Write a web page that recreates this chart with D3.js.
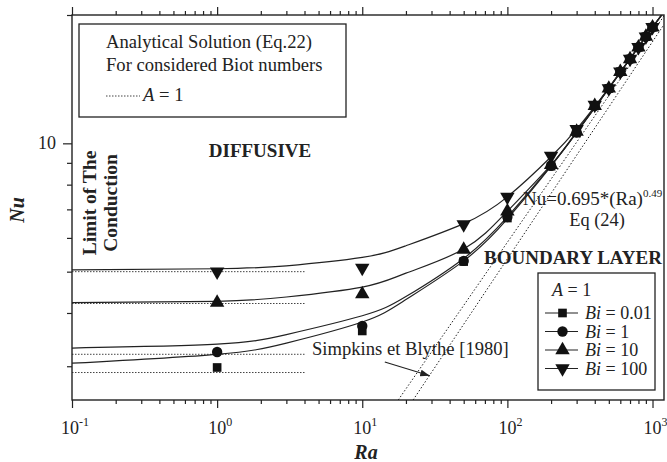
<!DOCTYPE html>
<html>
<head>
<meta charset="utf-8">
<script src="https://cdn.jsdelivr.net/npm/d3@7"></script>
<style>
body { margin: 0; background: #fff; }
svg { display: block; font-family: "Liberation Serif", "Times New Roman", serif; }
</style>
</head>
<body>
<div id="chart"></div>
<script>
var w = 667, h = 462;

// numerical results (markers)
var raPoints = [1, 10, 50, 100, 200, 300, 400, 500, 600, 700, 800, 900, 1000];
var nuBi001 = [2.98, 3.63, 5.28, 6.68, 8.84, 10.6, 12.24, 13.45, 14.72, 15.77, 16.8, 17.79, 18.72];
var nuBi1   = [3.24, 3.73, 5.30, 6.72, 8.86, 10.6, 12.24, 13.45, 14.72, 15.77, 16.8, 17.79, 18.72];
var nuBi10  = [4.23, 4.43, 5.63, 6.93, 8.90, 10.65, 12.24, 13.45, 14.72, 15.77, 16.8, 17.79, 18.72];
var nuBi100 = [5.00, 5.10, 6.45, 7.49, 9.34, 10.8, 12.3, 13.45, 14.72, 15.77, 16.8, 17.79, 18.72];

// analytical solution (Eq.22), solid curves
var raCurve = [0.1, 1, 3, 10, 20, 50, 100, 200, 300, 500, 1000, 1200];
var curveBi001 = [3.05, 3.20, 3.40, 3.81, 4.30, 5.30, 6.65, 8.84, 10.6, 13.45, 18.7, 20.3];
var curveBi1   = [3.31, 3.38, 3.56, 3.94, 4.37, 5.37, 6.72, 8.86, 10.6, 13.45, 18.7, 20.3];
var curveBi10  = [4.23, 4.26, 4.36, 4.60, 4.96, 5.65, 6.93, 8.90, 10.65, 13.45, 18.7, 20.3];
var curveBi100 = [5.05, 5.08, 5.16, 5.40, 5.75, 6.48, 7.49, 9.30, 10.8, 13.5, 18.7, 20.3];

// conduction limits (dotted, A = 1)
var limitRa = [0.1, 4];
var limitNu = [5.0, 4.21, 3.2, 2.9];

// correlations (dotted straight lines)
var eq24Ra = [17.7, 1200], eq24Nu = [2.5, 19.9];
var simpRa = [22.4, 1200], simpNu = [2.5, 19.0];

var xMajor = [0.1, 1, 10, 100, 1000];
var xExp = ["-1", "0", "1", "2", "3"];
var yMajor = [10];

var legendNames = ["0.01", "1", "10", "100"];

var svg = d3.select("#chart").append("svg")
    .attr("width", w)
    .attr("height", h);

var x = d3.scaleLog().domain([0.1, 1200]).range([72, 664]);
var y = d3.scaleLog().domain([2.5, 20]).range([400, 15]);

var ink = "#222";

svg.append("clipPath").attr("id", "clip")
    .append("rect").attr("x", 72).attr("y", 15).attr("width", 592).attr("height", 385);

var plot = svg.append("g").attr("clip-path", "url(#clip)");

// axes -- minor ticks, then majors
var xMinor = x.ticks().filter(function (d) { return xMajor.indexOf(d) < 0; });
var yMinor = y.ticks().filter(function (d) { return yMajor.indexOf(d) < 0; });

function styleAxis(g) {
    g.select(".domain").remove();
    g.selectAll("line").attr("stroke", ink).attr("stroke-width", 1.2);
}

svg.append("g").attr("transform", "translate(0,400)")
    .call(d3.axisBottom(x).tickValues(xMinor).tickSize(4).tickFormat(""))
    .call(styleAxis);
svg.append("g").attr("transform", "translate(0,400)")
    .call(d3.axisBottom(x).tickValues(xMajor).tickSize(8).tickFormat(""))
    .call(styleAxis);
svg.append("g").attr("transform", "translate(0,15)")
    .call(d3.axisTop(x).tickValues(xMinor).tickSize(4).tickFormat(""))
    .call(styleAxis);
svg.append("g").attr("transform", "translate(0,15)")
    .call(d3.axisTop(x).tickValues(xMajor).tickSize(8).tickFormat(""))
    .call(styleAxis);
svg.append("g").attr("transform", "translate(72,0)")
    .call(d3.axisLeft(y).tickValues(yMinor).tickSize(5).tickFormat(""))
    .call(styleAxis);
svg.append("g").attr("transform", "translate(72,0)")
    .call(d3.axisLeft(y).tickValues(yMajor).tickSize(9).tickFormat(""))
    .call(styleAxis);

// x tick labels 10^n
xMajor.forEach(function (d, i) {
    var t = svg.append("text")
        .attr("x", x(d) + 3)
        .attr("y", 434)
        .attr("text-anchor", "middle")
        .attr("font-size", 18)
        .attr("fill", ink);
    t.append("tspan").text("10");
    t.append("tspan").attr("dy", -8).attr("font-size", 12).text(xExp[i]);
});
yMajor.forEach(function (d) {
    svg.append("text")
        .attr("x", 56)
        .attr("y", y(d) + 6)
        .attr("text-anchor", "end")
        .attr("font-size", 18)
        .attr("fill", ink)
        .text(d);
});

// frame
svg.append("rect")
    .attr("x", 72).attr("y", 15).attr("width", 592).attr("height", 385)
    .attr("fill", "none").attr("stroke", ink).attr("stroke-width", 1.4);

// dotted correlation lines
var straight = d3.line().x(function (d) { return x(d[0]); }).y(function (d) { return y(d[1]); });
[[eq24Ra, eq24Nu], [simpRa, simpNu]].forEach(function (p) {
    plot.append("path")
        .attr("d", straight(d3.zip(p[0], p[1])))
        .attr("fill", "none").attr("stroke", ink)
        .attr("stroke-width", 1).attr("stroke-dasharray", "1.5,2");
});

// conduction limits
limitNu.forEach(function (nu) {
    plot.append("path")
        .attr("d", straight(limitRa.map(function (r) { return [r, nu]; })))
        .attr("fill", "none").attr("stroke", "#444")
        .attr("stroke-width", 1).attr("stroke-dasharray", "1.5,1.5");
});

// analytical curves
var smooth = d3.line().curve(d3.curveNatural)
    .x(function (d) { return x(d[0]); }).y(function (d) { return y(d[1]); });
[curveBi001, curveBi1, curveBi10, curveBi100].forEach(function (c) {
    plot.append("path")
        .attr("d", smooth(d3.zip(raCurve, c)))
        .attr("fill", "none").attr("stroke", ink).attr("stroke-width", 1.2);
});

// markers
var symbols = [
    {type: d3.symbolSquare, size: 75, rot: 0},
    {type: d3.symbolCircle, size: 85, rot: 0},
    {type: d3.symbolTriangle, size: 90, rot: 0},
    {type: d3.symbolTriangle, size: 90, rot: 180}
];
[nuBi001, nuBi1, nuBi10, nuBi100].forEach(function (s, k) {
    var sym = symbols[k];
    plot.selectAll(".m" + k)
        .data(d3.zip(raPoints, s))
        .enter()
        .append("path")
        .attr("class", "m" + k)
        .attr("d", d3.symbol().type(sym.type).size(sym.size))
        .attr("transform", function (d) {
            return "translate(" + x(d[0]) + "," + y(d[1]) + ") rotate(" + sym.rot + ")";
        })
        .attr("fill", "#111");
});

// top-left box
svg.append("rect").attr("x", 79).attr("y", 24).attr("width", 267).attr("height", 93)
    .attr("fill", "#fff").attr("stroke", ink).attr("stroke-width", 1.3);
svg.append("text").attr("x", 106).attr("y", 48).attr("font-size", 18.6).attr("fill", ink)
    .text("Analytical Solution (Eq.22)");
svg.append("text").attr("x", 106).attr("y", 71).attr("font-size", 18.6).attr("fill", ink)
    .text("For considered Biot numbers");
svg.append("line").attr("x1", 106).attr("x2", 140).attr("y1", 96).attr("y2", 96)
    .attr("stroke", "#444").attr("stroke-dasharray", "1.5,1.5");
var a1 = svg.append("text").attr("x", 143).attr("y", 101).attr("font-size", 18.6).attr("fill", ink);
a1.append("tspan").attr("font-style", "italic").text("A");
a1.append("tspan").text(" = 1");

// region labels
svg.append("text").attr("x", 260).attr("y", 157).attr("text-anchor", "middle")
    .attr("font-size", 19).attr("font-weight", "bold").attr("fill", ink).text("DIFFUSIVE");
svg.append("text").attr("x", 573).attr("y", 264).attr("text-anchor", "middle")
    .attr("font-size", 19).attr("font-weight", "bold").attr("fill", ink).text("BOUNDARY LAYER");
var lim = svg.append("text").attr("transform", "translate(0,203) rotate(-90)")
    .attr("text-anchor", "middle").attr("font-size", 19.5).attr("font-weight", "bold").attr("fill", ink);
lim.append("tspan").attr("x", 0).attr("y", 96).text("Limit of The");
lim.append("tspan").attr("x", 0).attr("y", 117).text("Conduction");

// correlation labels
var eq = svg.append("text").attr("x", 523).attr("y", 205).attr("font-size", 19).attr("fill", ink);
eq.append("tspan").text("Nu=0.695*(Ra)");
eq.append("tspan").attr("dy", -8).attr("font-size", 11).text("0.49");
svg.append("text").attr("x", 597).attr("y", 226).attr("text-anchor", "middle")
    .attr("font-size", 18.4).attr("fill", ink).text("Eq (24)");

svg.append("text").attr("x", 312).attr("y", 355).attr("font-size", 18.6).attr("fill", ink)
    .text("Simpkins et Blythe [1980]");

// arrow to Simpkins line
svg.append("defs").append("marker").attr("id", "arr")
    .attr("viewBox", "0 0 10 10").attr("refX", 10).attr("refY", 5)
    .attr("markerWidth", 8).attr("markerHeight", 8).attr("orient", "auto")
    .append("path").attr("d", "M0,1.5L10,5L0,8.5Z").attr("fill", ink);
svg.append("line")
    .attr("x1", x(14.3)).attr("y1", y(3.07))
    .attr("x2", x(29.2)).attr("y2", y(2.85))
    .attr("stroke", ink).attr("stroke-width", 1.2)
    .attr("marker-end", "url(#arr)");

// axis titles
svg.append("text").attr("x", 366).attr("y", 459).attr("text-anchor", "middle")
    .attr("font-size", 20).attr("font-weight", "bold").attr("font-style", "italic")
    .attr("fill", ink).text("Ra");
svg.append("text").attr("transform", "translate(24,210) rotate(-90)").attr("text-anchor", "middle")
    .attr("font-size", 20).attr("font-weight", "bold").attr("font-style", "italic")
    .attr("fill", ink).text("Nu");

// legend box
var lg = svg.append("g").attr("transform", "translate(538,273)");
lg.append("rect").attr("width", 117).attr("height", 117)
    .attr("fill", "#fff").attr("stroke", ink).attr("stroke-width", 1.3);
var a2 = lg.append("text").attr("x", 14).attr("y", 23).attr("font-size", 18).attr("fill", ink);
a2.append("tspan").attr("font-style", "italic").text("A");
a2.append("tspan").text(" = 1");
legendNames.forEach(function (name, k) {
    var yy = 40 + k * 18.5;
    lg.append("line").attr("x1", 7).attr("x2", 40).attr("y1", yy).attr("y2", yy)
        .attr("stroke", ink).attr("stroke-width", 1.2);
    lg.append("path")
        .attr("d", d3.symbol().type(symbols[k].type).size(symbols[k].size)())
        .attr("transform", "translate(24.5," + yy + ") rotate(" + symbols[k].rot + ")")
        .attr("fill", "#111");
    var t = lg.append("text").attr("x", 47).attr("y", yy + 6).attr("font-size", 18).attr("fill", ink);
    t.append("tspan").attr("font-style", "italic").text("Bi");
    t.append("tspan").text(" = " + name);
});
</script>
</body>
</html>
